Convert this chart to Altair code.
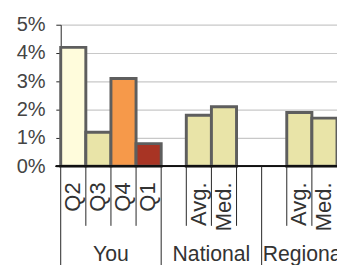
import altair as alt
import pandas as pd

# --- data ---
slots = ["You|Q2", "You|Q3", "You|Q4", "You|Q1",
         "National|gap1", "National|Avg.", "National|Med.", "National|gap2",
         "Regional|gap1", "Regional|Avg.", "Regional|Med."]
labels = ["Q2", "Q3", "Q4", "Q1", "", "Avg.", "Med.", "", "", "Avg.", "Med."]
values = [4.2, 1.2, 3.1, 0.8, None, 1.8, 2.1, None, None, 1.9, 1.7]
fills = ["#FFFCDC", "#E9E4A8", "#F6994A", "#A83424", None,
         "#E9E4A8", "#E9E4A8", None, None, "#E9E4A8", "#E9E4A8"]
group_start = [True, False, False, False, True, False, False, False, True, False, False]
groups_center = ["You", "National"]
center_anchor = ["You|Q4", "National|Med."]
groups_left = ["Regional"]
left_anchor = ["Regional|gap1"]
y_ticks = [0, 1, 2, 3, 4, 5]

W = 283
H = 145

df = pd.DataFrame({"slot": slots, "label": labels, "value": values,
                   "fill": fills, "start": group_start})
bars_df = df.dropna(subset=["value"])
lab_df = df[df["label"] != ""]
short_df = df[~df["start"]]
long_df = df[df["start"]]
grp_c_df = pd.DataFrame({"group": groups_center, "slot": center_anchor})
grp_l_df = pd.DataFrame({"group": groups_left, "slot": left_anchor})

xscale = alt.Scale(domain=slots, paddingInner=0, paddingOuter=0)
FONT = "Liberation Sans"

bars = alt.Chart(bars_df).mark_bar(stroke="#5e5e5e", strokeWidth=3).encode(
    x=alt.X("slot:N", scale=xscale, axis=None, sort=slots),
    y=alt.Y("value:Q", scale=alt.Scale(domain=[0, 5], nice=False),
            axis=alt.Axis(values=y_ticks, labelExpr="datum.value + '%'", title=None,
                          grid=True, gridColor="#c8c8c8", gridWidth=1.2,
                          domainColor="#222", tickColor="#222", tickSize=5,
                          labelFontSize=20.5, labelColor="#444", labelFont=FONT,
                          labelPadding=11)),
    fill=alt.Fill("fill:N", scale=None),
)

xline = alt.Chart(df).mark_rule(color="#111", strokeWidth=1).encode(
    x=alt.value(-5), x2=alt.value(W + 5), y=alt.value(H)
)

short_rules = alt.Chart(short_df).mark_rule(color="#222", strokeWidth=1).encode(
    x=alt.X("slot:N", scale=xscale, sort=slots, bandPosition=0),
    y=alt.value(H), y2=alt.value(206),
)
long_rules = alt.Chart(long_df).mark_rule(color="#222", strokeWidth=1).encode(
    x=alt.X("slot:N", scale=xscale, sort=slots, bandPosition=0),
    y=alt.value(H), y2=alt.value(260),
)

cat_text = alt.Chart(lab_df).mark_text(
    angle=270, align="right", baseline="middle", fontSize=22.5, font=FONT, color="#333"
).encode(
    x=alt.X("slot:N", scale=xscale, sort=slots),
    y=alt.value(161.5),
    text="label:N",
)

grp_text_c = alt.Chart(grp_c_df).mark_text(
    align="center", baseline="alphabetic", fontSize=21.7, font=FONT, color="#333"
).encode(
    x=alt.X("slot:N", scale=xscale, sort=slots, bandPosition=0),
    y=alt.value(242.5),
    text="group:N",
)
grp_text_l = alt.Chart(grp_l_df).mark_text(
    align="left", baseline="alphabetic", fontSize=21.7, font=FONT, color="#333", dx=1
).encode(
    x=alt.X("slot:N", scale=xscale, sort=slots, bandPosition=0),
    y=alt.value(242.5),
    text="group:N",
)

chart = alt.layer(bars, xline, short_rules, long_rules, cat_text,
                  grp_text_c, grp_text_l).properties(
    width=W, height=H,
    autosize=alt.AutoSizeParams(type="none"),
    padding={"left": 54, "top": 14, "right": 0, "bottom": 98},
    background="white",
).configure_view(stroke=None)

chart.save("out.html", embed_options={"renderer": "svg", "actions": False})
